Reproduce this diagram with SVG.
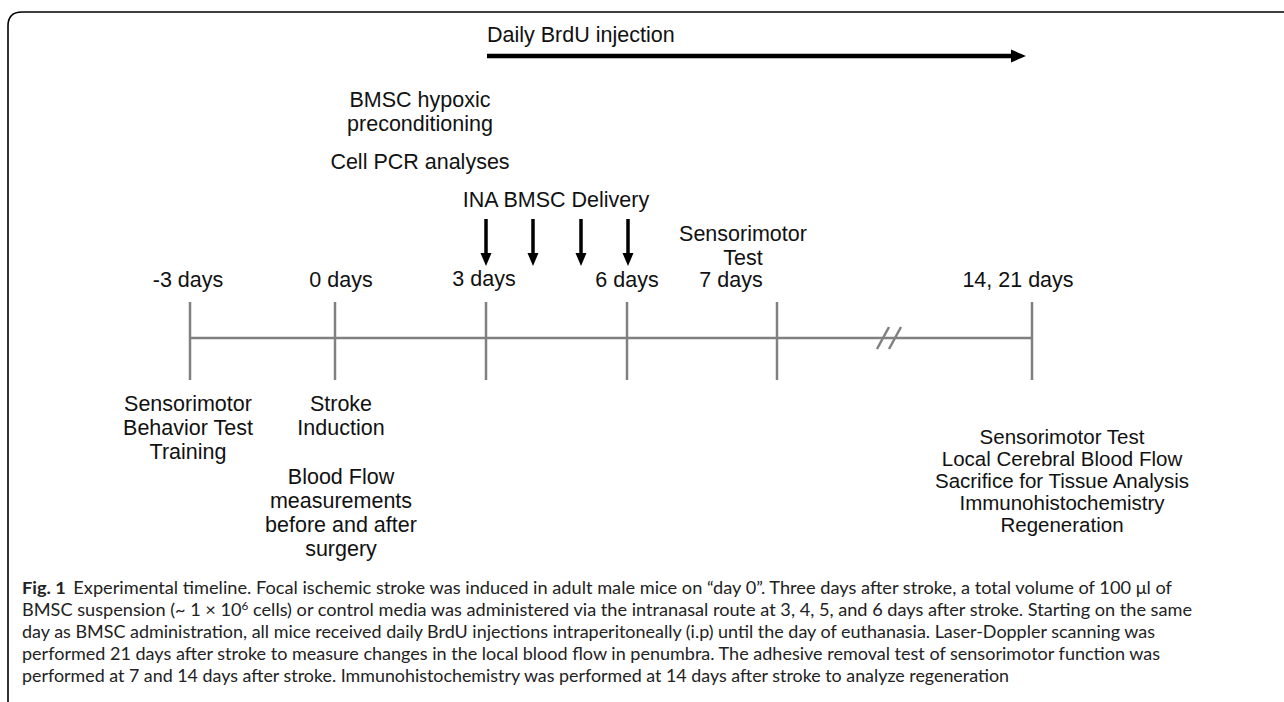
<svg xmlns="http://www.w3.org/2000/svg" width="1284" height="702" viewBox="0 0 1284 702">
<defs>
<style>
.t{font-family:"Liberation Sans",Arial,sans-serif;font-size:21.5px;fill:#111;text-anchor:middle}
.ts{font-family:"Liberation Sans",Arial,sans-serif;font-size:20.5px;fill:#111;text-anchor:middle}
.tick{stroke:#808080;stroke-width:2.5;fill:none}
.ar{stroke:#000;stroke-width:3.5;fill:none}
.cap{font-family:"Lato","Open Sans",sans-serif;font-size:17px;fill:#222}
</style>
</defs>
<rect width="1284" height="702" fill="#fff"/>
<path d="M8,702 V26 Q8,12 22,12 H1284" fill="none" stroke="#000" stroke-width="1.6"/>

<g id="timeline">
<line class="tick" x1="190" y1="338" x2="1032" y2="338"/>
<line class="tick" x1="190" y1="302" x2="190" y2="380"/>
<line class="tick" x1="335" y1="302" x2="335" y2="380"/>
<line class="tick" x1="486" y1="302" x2="486" y2="380"/>
<line class="tick" x1="627" y1="302" x2="627" y2="380"/>
<line class="tick" x1="777" y1="302" x2="777" y2="380"/>
<line class="tick" x1="1032" y1="302" x2="1032" y2="380"/>
<line class="tick" x1="877" y1="349" x2="889" y2="327"/>
<line class="tick" x1="889" y1="349" x2="901" y2="327"/>
</g>

<g id="connectors">
<line x1="487" y1="56" x2="1012" y2="56" stroke="#000" stroke-width="4.5"/>
<polygon points="1011,49.5 1026,56 1011,62.5" fill="#000"/>
<line class="ar" x1="486" y1="219" x2="486" y2="254"/>
<polygon points="480.5,253 491.5,253 486,266" fill="#000"/>
<line class="ar" x1="533" y1="219" x2="533" y2="254"/>
<polygon points="527.5,253 538.5,253 533,266" fill="#000"/>
<line class="ar" x1="581" y1="219" x2="581" y2="254"/>
<polygon points="575.5,253 586.5,253 581,266" fill="#000"/>
<line class="ar" x1="628" y1="219" x2="628" y2="254"/>
<polygon points="622.5,253 633.5,253 628,266" fill="#000"/>
</g>

<g id="brdu"><text class="t" x="487" y="42" style="text-anchor:start">Daily BrdU injection</text></g>
<g id="bmsc"><text class="t" x="420" y="107">BMSC hypoxic</text><text class="t" x="420" y="131">preconditioning</text><text class="t" x="420" y="169">Cell PCR analyses</text></g>
<g id="ina"><text class="t" x="556" y="207">INA BMSC Delivery</text></g>
<g id="sensor7"><text class="t" x="743" y="241">Sensorimotor</text><text class="t" x="743" y="265">Test</text></g>

<g id="day-3"><text class="t" x="188" y="287">-3 days</text>
<text class="t" x="188" y="411">Sensorimotor</text><text class="t" x="188" y="435">Behavior Test</text><text class="t" x="188" y="459">Training</text></g>
<g id="day0"><text class="t" x="341" y="287">0 days</text>
<text class="t" x="341" y="411">Stroke</text><text class="t" x="341" y="435">Induction</text>
<text class="t" x="341" y="484">Blood Flow</text><text class="t" x="341" y="508">measurements</text><text class="t" x="341" y="532">before and after</text><text class="t" x="341" y="556">surgery</text></g>
<g id="day3"><text class="t" x="484" y="286">3 days</text></g>
<g id="day6"><text class="t" x="627" y="287">6 days</text></g>
<g id="day7"><text class="t" x="731" y="287">7 days</text></g>
<g id="day14"><text class="t" x="1018" y="287">14, 21 days</text>
<text class="ts" x="1062" y="444">Sensorimotor Test</text><text class="ts" x="1062" y="466">Local Cerebral Blood Flow</text><text class="ts" x="1062" y="488">Sacrifice for Tissue Analysis</text><text class="ts" x="1062" y="510">Immunohistochemistry</text><text class="ts" x="1062" y="532">Regeneration</text></g>

<g id="caption">
<text class="cap" x="22" y="594" textLength="1150" lengthAdjust="spacingAndGlyphs"><tspan font-weight="bold">Fig. 1</tspan><tspan dx="7">Experimental timeline. Focal ischemic stroke was induced in adult male mice on “day 0”. Three days after stroke, a total volume of 100 μl of</tspan></text>
<text class="cap" x="22" y="616" textLength="1170" lengthAdjust="spacingAndGlyphs">BMSC suspension (~ 1 × 10<tspan font-size="11" dy="-6">6</tspan><tspan dy="6"> cells) or control media was administered via the intranasal route at 3, 4, 5, and 6 days after stroke. Starting on the same</tspan></text>
<text class="cap" x="22" y="638" textLength="1133" lengthAdjust="spacingAndGlyphs">day as BMSC administration, all mice received daily BrdU injections intraperitoneally (i.p) until the day of euthanasia. Laser-Doppler scanning was</text>
<text class="cap" x="22" y="660" textLength="1138" lengthAdjust="spacingAndGlyphs">performed 21 days after stroke to measure changes in the local blood flow in penumbra. The adhesive removal test of sensorimotor function was</text>
<text class="cap" x="22" y="682" textLength="987" lengthAdjust="spacingAndGlyphs">performed at 7 and 14 days after stroke. Immunohistochemistry was performed at 14 days after stroke to analyze regeneration</text>
</g>
</svg>
